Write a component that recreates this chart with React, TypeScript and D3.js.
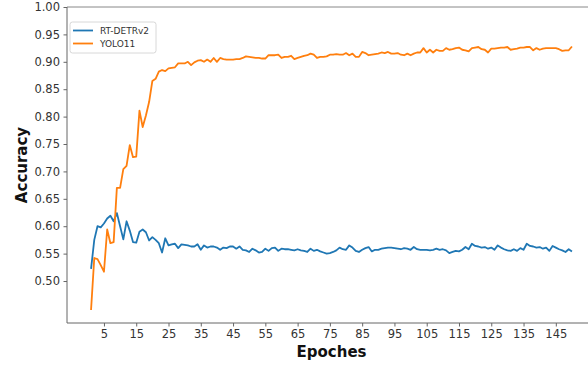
import React, { useEffect, useRef } from 'react';
import * as d3 from 'd3';

const W = 588;
const H = 366;

// accuracy per epoch (1..150)
const rtdetr = [
  0.522, 0.575, 0.600, 0.598, 0.605, 0.614, 0.619, 0.609, 0.624, 0.600,
  0.576, 0.609, 0.592, 0.571, 0.570, 0.590, 0.594, 0.589, 0.574, 0.580,
  0.575, 0.569, 0.552, 0.578, 0.565, 0.567, 0.568, 0.560, 0.567, 0.566,
  0.565, 0.563, 0.563, 0.567, 0.557, 0.565, 0.561, 0.563, 0.563, 0.561,
  0.557, 0.561, 0.560, 0.563, 0.563, 0.559, 0.563, 0.557, 0.556, 0.553,
  0.559, 0.556, 0.552, 0.553, 0.559, 0.555, 0.560, 0.561, 0.555, 0.559,
  0.558, 0.558, 0.557, 0.556, 0.558, 0.556, 0.555, 0.553, 0.559, 0.555,
  0.557, 0.554, 0.552, 0.550, 0.551, 0.553, 0.556, 0.561, 0.558, 0.557,
  0.565, 0.561, 0.555, 0.553, 0.557, 0.560, 0.562, 0.554, 0.557, 0.557,
  0.559, 0.560, 0.561, 0.561, 0.560, 0.559, 0.558, 0.560, 0.559, 0.557,
  0.562, 0.558, 0.557, 0.557, 0.557, 0.556, 0.557, 0.559, 0.557, 0.558,
  0.556, 0.551, 0.553, 0.555, 0.554, 0.557, 0.562, 0.558, 0.568, 0.564,
  0.563, 0.561, 0.562, 0.559, 0.561, 0.557, 0.565, 0.561, 0.558, 0.556,
  0.555, 0.558, 0.555, 0.560, 0.557, 0.568, 0.564, 0.563, 0.561, 0.562,
  0.559, 0.561, 0.555, 0.564, 0.561, 0.558, 0.556, 0.553, 0.558, 0.554,
];

const yolo = [
  0.447, 0.542, 0.540, 0.529, 0.517, 0.594, 0.569, 0.571, 0.670, 0.670,
  0.704, 0.710, 0.748, 0.726, 0.727, 0.811, 0.781, 0.802, 0.827, 0.865,
  0.869, 0.882, 0.885, 0.883, 0.888, 0.889, 0.890, 0.897, 0.897, 0.897,
  0.900, 0.894, 0.899, 0.902, 0.903, 0.900, 0.904, 0.900, 0.907, 0.900,
  0.907, 0.905, 0.904, 0.904, 0.904, 0.905, 0.905, 0.907, 0.910, 0.909,
  0.908, 0.907, 0.907, 0.906, 0.906, 0.912, 0.912, 0.912, 0.913, 0.907,
  0.909, 0.909, 0.911, 0.905, 0.907, 0.909, 0.911, 0.912, 0.915, 0.913,
  0.907, 0.909, 0.909, 0.910, 0.913, 0.913, 0.914, 0.913, 0.913, 0.916,
  0.912, 0.915, 0.909, 0.909, 0.918, 0.916, 0.912, 0.913, 0.914, 0.915,
  0.917, 0.916, 0.918, 0.915, 0.915, 0.916, 0.913, 0.912, 0.915, 0.912,
  0.915, 0.917, 0.917, 0.925, 0.917, 0.922, 0.917, 0.922, 0.920, 0.920,
  0.925, 0.922, 0.923, 0.925, 0.926, 0.922, 0.921, 0.919, 0.925, 0.926,
  0.927, 0.923, 0.922, 0.917, 0.924, 0.924, 0.925, 0.926, 0.926, 0.927,
  0.922, 0.923, 0.924, 0.926, 0.926, 0.927, 0.927, 0.921, 0.925, 0.922,
  0.924, 0.925, 0.925, 0.925, 0.925, 0.923, 0.920, 0.921, 0.921, 0.928,
];

const seriesNames = ['RT-DETRv2', 'YOLO11'];
const colors = ['#1f77b4', '#ff7f0e'];
const xTicks = [5, 15, 25, 35, 45, 55, 65, 75, 85, 95, 105, 115, 125, 135, 145];
const yTicks = [0.5, 0.55, 0.6, 0.65, 0.7, 0.75, 0.8, 0.85, 0.9, 0.95, 1.0];

const FONT = 'DejaVu Sans, sans-serif';

export default function App() {
  const ref = useRef<SVGSVGElement>(null);

  useEffect(() => {
    const svg = d3.select(ref.current);
    svg.selectAll('*').remove();

    const left = 67, right = 596, top = 7, bottom = 323;
    const x = d3.scaleLinear().domain([-6.45, 157.45]).range([left, right]);
    const y = d3.scaleLinear().domain([0.4234, 1.0]).range([bottom, top]);

    const line = d3.line<number>()
      .x((d, i) => x(i + 1))
      .y(d => y(d));

    // lines
    [rtdetr, yolo].forEach((s, k) => {
      svg.append('path')
        .datum(s)
        .attr('d', line)
        .attr('fill', 'none')
        .attr('stroke', colors[k])
        .attr('stroke-width', 1.8)
        .attr('stroke-linejoin', 'round');
    });

    // spines
    svg.append('line').attr('x1', left).attr('x2', right).attr('y1', top).attr('y2', top)
      .attr('stroke', '#888').attr('stroke-width', 1);
    svg.append('line').attr('x1', left).attr('x2', left).attr('y1', top).attr('y2', bottom)
      .attr('stroke', '#666').attr('stroke-width', 1);
    svg.append('line').attr('x1', left).attr('x2', right).attr('y1', bottom).attr('y2', bottom)
      .attr('stroke', '#666').attr('stroke-width', 1);

    // y axis
    const yAxis = d3.axisLeft(y).tickValues(yTicks).tickFormat(d3.format('.2f'))
      .tickSize(3.5).tickPadding(3.5);
    const gy = svg.append('g').attr('transform', `translate(${left},0)`).call(yAxis);
    gy.select('.domain').remove();
    gy.selectAll('line').attr('stroke', '#666');
    gy.selectAll('text').attr('fill', '#333').attr('font-size', 11.5).attr('font-family', FONT);

    // x axis
    const xAxis = d3.axisBottom(x).tickValues(xTicks).tickFormat(d3.format('d'))
      .tickSize(3.5).tickPadding(3.5);
    const gx = svg.append('g').attr('transform', `translate(0,${bottom})`).call(xAxis);
    gx.select('.domain').remove();
    gx.selectAll('line').attr('stroke', '#666');
    gx.selectAll('text').attr('fill', '#333').attr('font-size', 11.5).attr('font-family', FONT);

    // axis titles
    svg.append('text')
      .attr('x', (left + right) / 2).attr('y', 357)
      .attr('text-anchor', 'middle')
      .attr('font-family', FONT).attr('font-weight', 'bold').attr('font-size', 15)
      .attr('fill', '#111')
      .text('Epoches');
    svg.append('text')
      .attr('transform', `translate(27,${(top + bottom) / 2}) rotate(-90)`)
      .attr('text-anchor', 'middle')
      .attr('font-family', FONT).attr('font-weight', 'bold').attr('font-size', 15)
      .attr('fill', '#111')
      .text('Accuracy');

    // legend
    const lg = svg.append('g').attr('transform', 'translate(70,22)');
    lg.append('rect')
      .attr('width', 86).attr('height', 31).attr('rx', 2.5)
      .attr('fill', 'white').attr('fill-opacity', 0.8)
      .attr('stroke', '#d8d8d8').attr('stroke-width', 1);
    seriesNames.forEach((name, i) => {
      const yy = 8.5 + i * 13;
      lg.append('line')
        .attr('x1', 3).attr('x2', 23).attr('y1', yy).attr('y2', yy)
        .attr('stroke', colors[i]).attr('stroke-width', 1.8);
      lg.append('text')
        .attr('x', 30).attr('y', yy + 3.3)
        .attr('font-family', FONT).attr('font-size', 9).attr('fill', '#333')
        .text(name);
    });
  }, []);

  return (
    <div style={{ position: 'fixed', left: 0, top: 0 }}>
      <svg ref={ref} width={W} height={H} style={{ display: 'block', background: 'white' }} />
    </div>
  );
}
